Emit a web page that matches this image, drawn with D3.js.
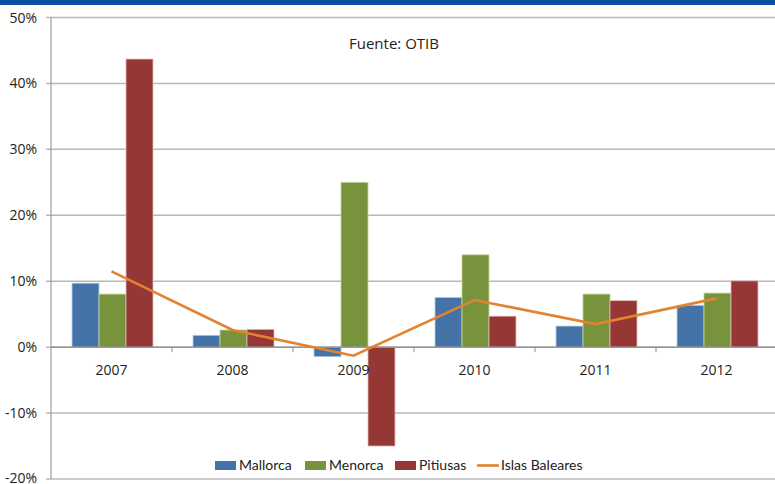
<!DOCTYPE html>
<html>
<head>
<meta charset="utf-8">
<style>
    body { margin: 0; background: white; }
    svg { display: block; font-family: "Open Sans", "Lato", sans-serif; }
    .legend text { font-family: Lato, sans-serif; }
</style>
</head>
<body>
<svg id="chart" width="775" height="484"></svg>
<script src="https://d3js.org/d3.v7.min.js"></script>
<script>
var years = ["2007", "2008", "2009", "2010", "2011", "2012"];
var mallorca = [9.7, 1.8, -1.45, 7.55, 3.2, 6.35];
var menorca = [8.05, 2.6, 25.0, 14.0, 8.05, 8.2];
var pitiusas = [43.7, 2.7, -15.0, 4.7, 7.05, 10.05];
var baleares = [11.5, 2.6, -1.3, 7.15, 3.5, 7.4];
var yTicks = [-20, -10, 0, 10, 20, 30, 40, 50];

var seriesNames = ["Mallorca", "Menorca", "Pitiusas"];
var seriesVals = [mallorca, menorca, pitiusas];
var colors = ["#4572a7", "#77933c", "#953735"];
var borders = ["#b9cde5", "#c3d69b", "#e6b9b8"];
var lineColor = "#e3822f";

var svg = d3.select("#chart");
var plotLeft = 51, plotRight = 777, plotTop = 17.5, plotBottom = 479;

// blue bar at the top
svg.append("rect").attr("x", 0).attr("y", 0).attr("width", 775).attr("height", 5).attr("fill", "#0b4fa0");

var x = d3.scaleBand().domain(years).range([plotLeft, plotRight]);
var x1 = d3.scaleBand().domain(seriesNames).range([21, x.bandwidth() - 19]);
var y = d3.scaleLinear().domain([-20, 50]).range([plotBottom, plotTop]);

// gridlines
svg.append("g").selectAll("line").data(yTicks).enter().append("line")
    .attr("x1", plotLeft - 5).attr("x2", 775)
    .attr("y1", function(d) { return y(d); }).attr("y2", function(d) { return y(d); })
    .attr("stroke", "#b8b8b8").attr("stroke-width", 1.5);

// left axis
svg.append("line").attr("x1", plotLeft).attr("x2", plotLeft).attr("y1", plotTop).attr("y2", plotBottom)
    .attr("stroke", "#8c8c8c").attr("stroke-width", 1);

svg.append("g").selectAll("text").data(yTicks).enter().append("text")
    .attr("x", 37).attr("y", function(d) { return Math.min(y(d) + 5, 483); })
    .attr("text-anchor", "end").attr("font-size", 14).attr("fill", "#222")
    .text(function(d) { return d + "%"; });

// bars
seriesNames.forEach(function(name, i) {
    svg.append("g").selectAll("rect").data(seriesVals[i]).enter().append("rect")
        .attr("x", function(d, j) { return x(years[j]) + x1(name); })
        .attr("y", function(d) { return y(Math.max(0, d)); })
        .attr("width", x1.bandwidth())
        .attr("height", function(d) { return Math.abs(y(d) - y(0)); })
        .attr("fill", colors[i])
        .attr("stroke", borders[i]).attr("stroke-width", 0.8);
});

// zero axis and category ticks
svg.append("line").attr("x1", plotLeft).attr("x2", 775).attr("y1", y(0)).attr("y2", y(0))
    .attr("stroke", "#8c8c8c").attr("stroke-width", 1.2);
svg.append("g").selectAll("line").data(years.slice(1)).enter().append("line")
    .attr("x1", function(d) { return x(d); }).attr("x2", function(d) { return x(d); })
    .attr("y1", y(0)).attr("y2", y(0) + 5)
    .attr("stroke", "#8c8c8c");

svg.append("g").selectAll("text").data(years).enter().append("text")
    .attr("x", function(d) { return x(d) + x.bandwidth() / 2; })
    .attr("y", y(0) + 28)
    .attr("text-anchor", "middle").attr("font-size", 14).attr("fill", "#222")
    .text(function(d) { return d; });

// line
var line = d3.line()
    .x(function(d, j) { return x(years[j]) + x.bandwidth() / 2; })
    .y(function(d) { return y(d); });
svg.append("path").datum(baleares).attr("d", line)
    .attr("fill", "none").attr("stroke", lineColor).attr("stroke-width", 2.6);

// source
svg.append("text").attr("x", 394).attr("y", 49).attr("text-anchor", "middle")
    .attr("font-size", 15).attr("fill", "#222").text("Fuente:  OTIB");

// legend
var legend = svg.append("g").attr("class", "legend");
var lx = [215, 305, 395];
seriesNames.forEach(function(name, i) {
    legend.append("rect").attr("x", lx[i]).attr("y", 461).attr("width", 21).attr("height", 9).attr("fill", colors[i]);
    legend.append("text").attr("x", lx[i] + 24).attr("y", 470).attr("font-size", 14).attr("fill", "#222").text(name);
});
legend.append("line").attr("x1", 477).attr("x2", 499).attr("y1", 465.5).attr("y2", 465.5)
    .attr("stroke", lineColor).attr("stroke-width", 2.6);
legend.append("text").attr("x", 501).attr("y", 470).attr("font-size", 14).attr("fill", "#222").text("Islas Baleares");
</script>
</body>
</html>
